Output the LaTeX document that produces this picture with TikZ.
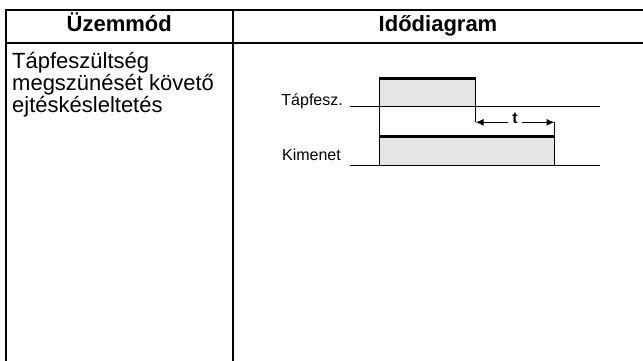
\documentclass[tikz,border=0pt]{standalone}
\usepackage{fontspec}
\setmainfont{Liberation Sans}
\usetikzlibrary{arrows.meta}
\begin{document}
\begin{tikzpicture}[x=1pt,y=-1pt,
  tableline/.style={line width=1.7pt,line cap=rect},
  sigline/.style={line width=1pt},
  edgeline/.style={line width=2.6pt},
  pulsefill/.style={fill=black!10},
  headtext/.style={font=\bfseries\fontsize{22}{22}\selectfont,inner sep=0pt,anchor=base},
  bodytext/.style={font=\fontsize{22}{22.2}\selectfont,inner sep=0pt,anchor=base west,align=left},
  sigtext/.style={font=\fontsize{16}{16}\selectfont,inner sep=0pt,anchor=base east},
  tip/.style={-{Latex[length=8pt,width=7pt]}}
]
\useasboundingbox (0,0) rectangle (643,361);
% table
\coordinate (tl) at (5.7,10);
\coordinate (tr) at (645,10);
\coordinate (bl) at (5.7,363);
\coordinate (hl) at (5.7,42.7);
\coordinate (hr) at (645,42.7);
\coordinate (dt) at (233,10);
\coordinate (db) at (233,363);
\draw[tableline] (tr) -- (tl) -- (bl);
\draw[tableline] (hl) -- (hr);
\draw[tableline] (dt) -- (db);
\node[headtext] (h1) at (119.3,31.7) {Üzemmód};
\node[headtext] (h2) at (438,31.7) {Idődiagram};
\node[bodytext] (mode) at (12,112.7) {Tápfeszültség\\megszünését követő\\ejtéskésleltetés};
% timing diagram
\coordinate (s1a) at (350,106.7);
\coordinate (s1b) at (600,106.7);
\coordinate (s2a) at (350,165);
\coordinate (s2b) at (600,165);
\coordinate (p1tl) at (379,78.3);
\coordinate (p1tr) at (475.7,78.3);
\coordinate (p1br) at (475.7,106.7);
\coordinate (p1ar) at (475.7,122.3);
\coordinate (p2tl) at (379,136.7);
\coordinate (p2tr) at (554.5,136.7);
\coordinate (p2bl) at (379,165);
\coordinate (p2br) at (554.5,165);
\coordinate (p2ar) at (554.5,122.3);
\fill[pulsefill] (p1tl) rectangle (p1br);
\fill[pulsefill] (p2tl) rectangle (p2br);
\draw[sigline] (s1a) -- (s1b);
\draw[sigline] (s2a) -- (s2b);
\draw[sigline] (p2bl) -- (p1tl);
\draw[sigline] (p1tr) -- (p1ar);
\draw[sigline] (p2ar) -- (p2br);
\draw[edgeline] (p1tl) -- (p1tr);
\draw[edgeline] (p2tl) -- (p2tr);
\node[sigtext] (lab1) at (343,106) {Tápfesz.};
\node[sigtext] (lab2) at (341,160) {Kimenet};
\node[font=\bfseries\fontsize{16}{16}\selectfont,inner sep=0pt,anchor=base] (t) at (515,123.3) {t};
\coordinate (al) at (508,122.3);
\coordinate (ar) at (522,122.3);
\draw[sigline,tip] (al) -- (p1ar);
\draw[sigline,tip] (ar) -- (p2ar);
\end{tikzpicture}
\end{document}
